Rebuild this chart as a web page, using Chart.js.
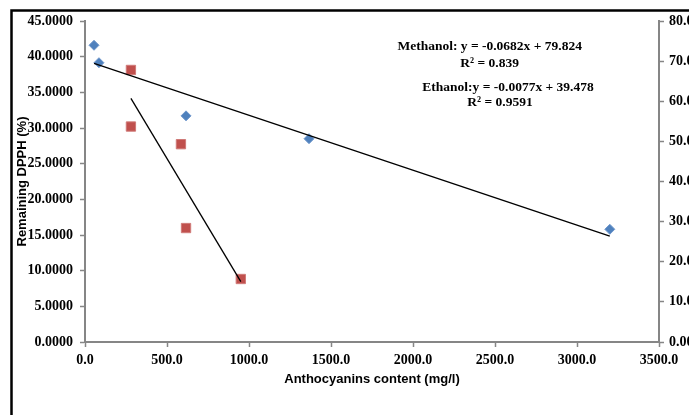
<!DOCTYPE html>
<html><head><meta charset="utf-8">
<script src="https://cdn.jsdelivr.net/npm/chart.js@4/dist/chart.umd.min.js"></script>
<style>html,body{margin:0;padding:0;background:#fff;overflow:hidden;width:689px;height:415px}canvas{display:block}</style>
</head><body>
<canvas id="c" width="760" height="415"></canvas>
<script>
// Data
const ethanolX = [55, 85, 616, 1366, 3200];
const ethanolY = [41.6, 39.15, 31.7, 28.5, 15.8];      // left axis
const methanolX = [280, 280, 585, 616, 950];
const methanolY = [67.8, 53.7, 49.3, 28.4, 15.7];      // right axis
const methanolFit = {slope: -0.0682, intercept: 79.824, r2: 0.839};
const ethanolFit = {slope: -0.0077, intercept: 39.478, r2: 0.9591};
const xTicks = [0, 500, 1000, 1500, 2000, 2500, 3000, 3500];
const leftTicks = [0, 5, 10, 15, 20, 25, 30, 35, 40, 45];
const rightTicks = [0, 10, 20, 30, 40, 50, 60, 70, 80];
const labels = {
  xTitle: 'Anthocyanins content (mg/l)',
  yTitle: 'Remaining DPPH (%)',
  methEq: 'Methanol: y = -0.0682x + 79.824',
  methR2: 'R² = 0.839',
  ethEq: 'Ethanol:y = -0.0077x + 39.478',
  ethR2: 'R² = 0.9591'
};

const pts = (xs, ys) => xs.map((x, i) => ({x, y: ys[i]}));
function fitLine(xs, fit) {
  const lo = Math.min(...xs), hi = Math.max(...xs);
  return [{x: lo, y: fit.slope * lo + fit.intercept}, {x: hi, y: fit.slope * hi + fit.intercept}];
}

const AXIS = '#868686';
const tickFont = {family: "'Liberation Serif','Times New Roman',serif", weight: 'bold', size: 14};
const titleFont = {family: "'Liberation Sans',Arial,sans-serif", weight: 'bold', size: 13};

const framePlugin = {
  id: 'frame',
  afterDraw(chart) {
    const ctx = chart.ctx;
    const a = chart.chartArea;
    ctx.save();
    ctx.strokeStyle = '#000';
    ctx.lineWidth = 2.5;
    ctx.beginPath();
    ctx.moveTo(11.5, 415); ctx.lineTo(11.5, 10.5); ctx.lineTo(760, 10.5);
    ctx.stroke();
    ctx.fillStyle = '#000';
    ctx.font = "bold 13.5px 'Liberation Serif','Times New Roman',serif";
    ctx.textAlign = 'center';
    ctx.textBaseline = 'middle';
    const w = a.right - a.left, h = a.bottom - a.top;
    ctx.fillText(labels.methEq, a.left + w * 0.705, a.top + h * 0.078);
    ctx.fillText(labels.methR2, a.left + w * 0.705, a.top + h * 0.131);
    ctx.fillText(labels.ethEq, a.left + w * 0.737, a.top + h * 0.206);
    ctx.fillText(labels.ethR2, a.left + w * 0.723, a.top + h * 0.253);
    ctx.restore();
  }
};

new Chart(document.getElementById('c'), {
  type: 'scatter',
  data: {
    datasets: [
      {label: 'Ethanol trend', data: fitLine(ethanolX, ethanolFit), showLine: true, borderColor: '#000', borderWidth: 1.3, pointRadius: 0, yAxisID: 'y'},
      {label: 'Methanol trend', data: fitLine(methanolX, methanolFit), showLine: true, borderColor: '#000', borderWidth: 1.3, pointRadius: 0, yAxisID: 'y2'},
      {label: 'Ethanol', data: pts(ethanolX, ethanolY), pointStyle: 'rectRot', pointRadius: 5, backgroundColor: '#4F81BD', borderColor: '#6f97cc', borderWidth: 1, yAxisID: 'y'},
      {label: 'Methanol', data: pts(methanolX, methanolY), pointStyle: 'rect', pointRadius: 6.6, backgroundColor: '#C0504D', borderColor: '#d07a78', borderWidth: 1, yAxisID: 'y2'}
    ]
  },
  options: {
    responsive: false,
    animation: false,
    layout: {padding: {top: 21, left: 0, right: 0, bottom: 0}},
    plugins: {legend: {display: false}, tooltip: {enabled: false}},
    scales: {
      x: {
        type: 'linear', min: 0, max: 3500,
        afterBuildTicks: s => { s.ticks = xTicks.map(v => ({value: v})); },
        afterFit: s => { s.height = 73; },
        ticks: {font: tickFont, color: '#000', padding: 5, maxRotation: 0, autoSkip: false, callback: v => Number(v).toFixed(1)},
        grid: {drawOnChartArea: false, drawTicks: true, tickLength: 5, color: AXIS, tickWidth: 1.5},
        border: {color: AXIS, width: 2},
        title: {display: true, text: labels.xTitle, font: titleFont, color: '#000', padding: {top: 0, bottom: 28}}
      },
      y: {
        type: 'linear', position: 'left', min: 0, max: 45,
        afterBuildTicks: s => { s.ticks = leftTicks.map(v => ({value: v})); },
        afterFit: s => { s.width = 85; },
        ticks: {font: tickFont, color: '#000', padding: 7, autoSkip: false, callback: v => Number(v).toFixed(4)},
        grid: {drawOnChartArea: false, drawTicks: true, tickLength: 5, color: AXIS, tickWidth: 1.5},
        border: {color: AXIS, width: 2},
        title: {display: true, text: labels.yTitle, font: titleFont, color: '#000', padding: {top: 15, bottom: 0}}
      },
      y2: {
        type: 'linear', position: 'right', min: 0, max: 80,
        afterBuildTicks: s => { s.ticks = rightTicks.map(v => ({value: v})); },
        afterFit: s => { s.width = 101; },
        ticks: {font: tickFont, color: '#000', padding: 5, autoSkip: false, callback: v => Number(v).toFixed(4)},
        grid: {drawOnChartArea: false, drawTicks: true, tickLength: 5, color: AXIS, tickWidth: 1.5},
        border: {color: AXIS, width: 2}
      }
    }
  },
  plugins: [framePlugin]
});
</script>
</body></html>
